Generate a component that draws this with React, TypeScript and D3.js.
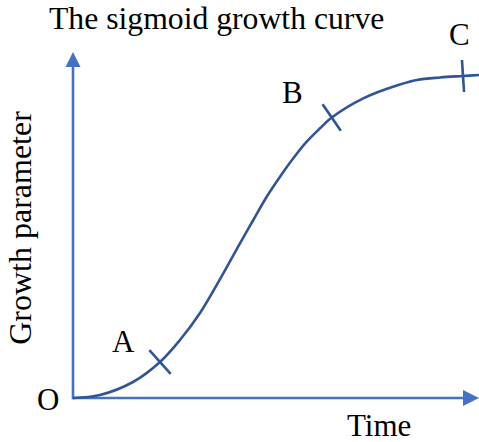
import React, { useEffect } from "react";
import * as d3 from "d3";

const WIDTH = 479;
const HEIGHT = 442;

// Curve data: time (0..100) and growth parameter (0..100)
const timeValues = [0, 6.65, 14.78, 21.43, 26.35, 31.28, 37.02, 41.13, 44.41, 47.71, 50.99, 54.26, 57.56, 60.84, 63.72, 71.5, 80.12, 84.73, 90.39, 96.06, 100];
const growthValues = [0, 0.86, 4.57, 10.29, 16.57, 24.29, 35.63, 44.2, 50.86, 57.51, 63.23, 68.49, 73.23, 77.06, 80.14, 85.63, 89.43, 90.86, 91.57, 92.0, 92.29];

// Phase markers on the curve (index into the data arrays)
const markerLabels = ["A", "B", "C"];
const markerIndex = [3, 14, 19];

const titleText = "The sigmoid growth curve";
const xAxisLabel = "Time";
const yAxisLabel = "Growth parameter";
const originLabel = "O";

const FONT = "'Liberation Serif', 'Times New Roman', serif";

export default function App() {
  useEffect(() => {
    document.body.style.margin = "0";
  }, []);

  const x = d3.scaleLinear().domain([0, 100]).range([73, 479]);
  const y = d3.scaleLinear().domain([0, 100]).range([398, 48]);

  const pts: [number, number][] = timeValues.map((t, i) => [x(t), y(growthValues[i])]);
  const line = d3.line<[number, number]>().x(d => d[0]).y(d => d[1]).curve(d3.curveCatmullRom.alpha(0.5));
  const pathD = line(pts) || "";

  const axisColor = "#4472C4";
  const curveColor = "#2F5597";
  const halfTick = 16;

  const ticks = markerIndex.map((idx, k) => {
    const p = pts[idx];
    const prev = pts[Math.max(0, idx - 1)];
    const next = pts[Math.min(pts.length - 1, idx + 1)];
    let dx = next[0] - prev[0];
    let dy = next[1] - prev[1];
    const len = Math.hypot(dx, dy);
    dx /= len; dy /= len;
    const px = -dy, py = dx;
    return { label: markerLabels[k], x1: p[0] - px * halfTick, y1: p[1] - py * halfTick, x2: p[0] + px * halfTick, y2: p[1] + py * halfTick };
  });

  const labelPos: Record<string, [number, number]> = { A: [112, 352], B: [282, 103], C: [449, 45] };

  const x0 = x(0), y0 = y(0), xEnd = x(100);
  const yTop = 52;
  const ts = { fontFamily: FONT };

  return (
    <svg width={WIDTH} height={HEIGHT} style={{ display: "block", position: "absolute", left: 0, top: 0, background: "#fff" }}>
      <rect width={WIDTH} height={HEIGHT} fill="#fff" />
      <text x={49} y={29} fontSize={31.7} fill="#000" style={ts}>{titleText}</text>

      <line x1={x0} y1={y0 + 1.3} x2={x0} y2={yTop + 12} stroke={axisColor} strokeWidth={2.6} />
      <polygon points={`${x0},${yTop} ${x0 - 7.5},${yTop + 15} ${x0 + 7.5},${yTop + 15}`} fill={axisColor} />
      <line x1={x0} y1={y0} x2={xEnd - 12} y2={y0} stroke={axisColor} strokeWidth={2.6} />
      <polygon points={`${xEnd},${y0} ${xEnd - 16},${y0 - 8} ${xEnd - 16},${y0 + 8}`} fill={axisColor} />

      <path d={pathD} fill="none" stroke={curveColor} strokeWidth={2.6} />
      {ticks.map(t => (
        <line key={t.label} x1={t.x1} y1={t.y1} x2={t.x2} y2={t.y2} stroke={curveColor} strokeWidth={2.6} />
      ))}
      {ticks.map(t => (
        <text key={"l" + t.label} x={labelPos[t.label][0]} y={labelPos[t.label][1]} fontSize={31} fill="#000" style={ts}>{t.label}</text>
      ))}

      <text x={37} y={410} fontSize={31} fill="#000" style={ts}>{originLabel}</text>
      <text x={347} y={436} fontSize={31} fill="#000" style={ts}>{xAxisLabel}</text>
      <text transform="translate(31,228) rotate(-90)" textAnchor="middle" fontSize={32} fill="#000" style={ts}>{yAxisLabel}</text>
    </svg>
  );
}
